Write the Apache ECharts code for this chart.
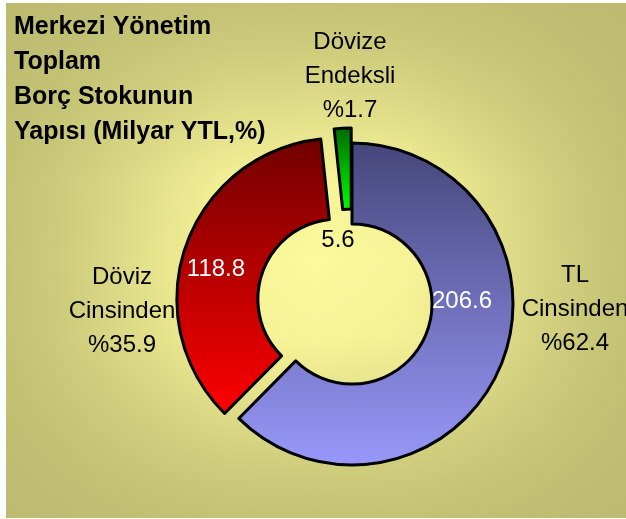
<!DOCTYPE html>
<html><head><meta charset="utf-8">
<script src="https://cdn.jsdelivr.net/npm/echarts@6/dist/echarts.min.js"></script>
<style>html,body{margin:0;padding:0;background:#fff}#c{width:626px;height:519px}</style>
</head><body><div id="c"></div>
<script>
// ---- data ----
const categories = ['TL\nCinsinden', 'Döviz\nCinsinden', 'Dövize\nEndeksli'];
const values = [206.6, 118.8, 5.6];
const titleText = 'Merkezi Yönetim\nToplam\nBorç Stokunun\nYapısı (Milyar YTL,%)';

// ---- styles / layout ----
const sliceColors = [['#46467a', '#9898fa'], ['#700000', '#ff0000'], ['#006800', '#00ff00']];
const explode = [false, true, true];
const valueLabelPos = [[462, 301], [216, 269], [338, 240]];
const valueLabelColor = ['#ffffff', '#ffffff', '#000000'];
const nameLabelPos = [[575, 309], [122, 311], [350, 76]];
const FONT = '"Liberation Sans", Arial, sans-serif';
const CENTER = [352, 304];
const RADIUS = [80, 161];

function grad(c) {
  return { type: 'linear', x: 0, y: 0, x2: 0, y2: 1,
    colorStops: [{ offset: 0, color: c[0] }, { offset: 1, color: c[1] }] };
}
// edge-darkening profile for the background (offset, alpha)
const edgeProfile = [[0, 0.85], [0.075, 0.72], [0.15, 0.55], [0.275, 0.25], [0.35, 0.08], [0.5, 0]];
function edgeGrad(horizontal) {
  const stops = [];
  edgeProfile.forEach(([o, a]) => stops.push({ offset: o, color: 'rgba(186,185,110,' + a + ')' }));
  edgeProfile.slice(0, -1).reverse().forEach(([o, a]) => stops.push({ offset: 1 - o, color: 'rgba(186,185,110,' + a + ')' }));
  return horizontal ? { type: 'linear', x: 0, y: 0, x2: 1, y2: 0, colorStops: stops }
                    : { type: 'linear', x: 0, y: 0, x2: 0, y2: 1, colorStops: stops };
}
const bgShape = { x: 6, y: 3, width: 620, height: 515 };

const transparentPie = {
  type: 'pie', center: CENTER, radius: RADIUS, startAngle: 90, clockwise: true, silent: true,
  avoidLabelOverlap: false, emphasis: { disabled: true },
  itemStyle: { color: 'rgba(0,0,0,0)', borderWidth: 0 },
  labelLine: { show: false }
};

const chart = echarts.init(document.getElementById('c'), null, { renderer: 'canvas' });
chart.setOption({
  animation: false,
  backgroundColor: '#ffffff',
  graphic: [
    { type: 'rect', z: -10, silent: true, shape: bgShape, style: { fill: '#fcf99c' } },
    { type: 'rect', z: -9, silent: true, shape: bgShape, style: { fill: edgeGrad(true) } },
    { type: 'rect', z: -8, silent: true, shape: bgShape, style: { fill: edgeGrad(false) } }
  ],
  title: {
    text: titleText, left: 14, top: 10, padding: 0,
    textStyle: { fontFamily: FONT, fontSize: 25, fontWeight: 'bold', color: '#000', lineHeight: 35 }
  },
  series: [
    {
      type: 'pie', center: CENTER, radius: RADIUS, startAngle: 90, clockwise: true,
      selectedMode: 'multiple', selectedOffset: 15, avoidLabelOverlap: false,
      emphasis: { disabled: true },
      label: { show: false }, labelLine: { show: false },
      data: values.map((v, i) => {
        const st = { color: grad(sliceColors[i]), borderColor: '#000', borderWidth: 3 };
        return {
          name: categories[i], value: v, selected: explode[i],
          itemStyle: st, select: { itemStyle: st }
        };
      })
    },
    Object.assign({}, transparentPie, {
      data: values.map((v, i) => ({ name: categories[i], value: v, label: { color: valueLabelColor[i] } })),
      label: { show: true, position: 'inside', formatter: '{c}', fontSize: 24, fontFamily: FONT },
      labelLayout: p => ({ x: valueLabelPos[p.dataIndex][0], y: valueLabelPos[p.dataIndex][1], align: 'center', verticalAlign: 'middle' })
    }),
    Object.assign({}, transparentPie, {
      percentPrecision: 1,
      data: values.map((v, i) => ({ name: categories[i], value: v })),
      label: { show: true, position: 'outside', formatter: p => p.name + '\n%' + p.percent,
        fontSize: 24, fontFamily: FONT, color: '#000', lineHeight: 34, align: 'center' },
      labelLayout: p => ({ x: nameLabelPos[p.dataIndex][0], y: nameLabelPos[p.dataIndex][1], align: 'center', verticalAlign: 'middle' })
    })
  ]
});
</script></body></html>
